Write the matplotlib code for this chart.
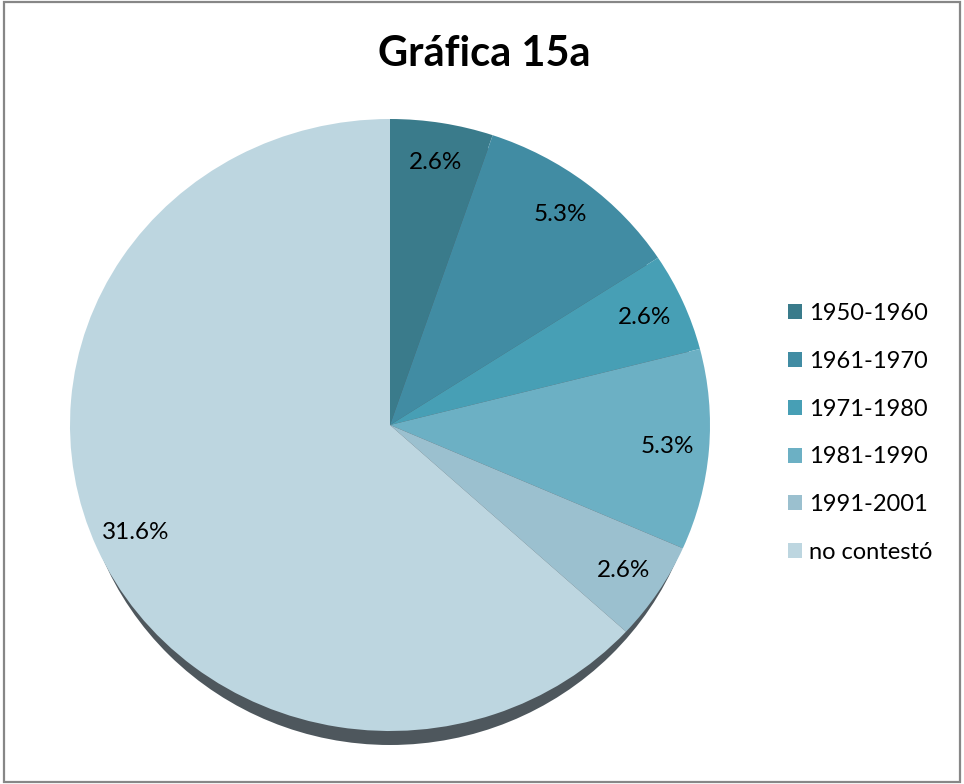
import matplotlib.pyplot as plt
from matplotlib.patches import Ellipse, Rectangle, Patch
import numpy as np

# Datos de la gráfica
periodos = ["1950-1960", "1961-1970", "1971-1980", "1981-1990", "1991-2001", "no contestó"]
porcentajes = [2.6, 5.3, 2.6, 5.3, 2.6, 31.6]
colores = ["#3a7b8b", "#418ca3", "#479fb5", "#6cb0c4", "#9bc0cf", "#bdd6e0"]

plt.rcParams['font.family'] = ['Lato', 'DejaVu Sans']

W, H = 964, 784
fig = plt.figure(figsize=(W / 100, H / 100), dpi=100)

# Marco gris alrededor de la figura
fig.patches.append(Rectangle((4 / W, 2 / H), 956 / W, 780 / H, transform=fig.transFigure,
                             fill=False, edgecolor="#878787", lw=1.6))

# Ejes del pastel (elipse ligeramente achatada)
cx, cy, rx, ry = 390, 425, 320, 306
ax = fig.add_axes([(cx - rx) / W, 1 - (cy + ry) / H, 2 * rx / W, 2 * ry / H])

wedges, _ = ax.pie(porcentajes, colors=colores, startangle=90, counterclock=False,
                   radius=1, wedgeprops=dict(linewidth=0))
ax.set_aspect('auto')
ax.set_xlim(-1, 1)
ax.set_ylim(-1, 1)
ax.axis('off')

# Sombra inferior
sombra = Ellipse((0, -14 / ry), 2 * 0.975, 2, facecolor="#4e575d", edgecolor="none",
                 zorder=0, clip_on=False)
ax.add_patch(sombra)

# Etiquetas de porcentaje dentro de cada rebanada
for w, v in zip(wedges, porcentajes):
    ang = np.deg2rad((w.theta1 + w.theta2) / 2)
    ax.text(0.87 * np.cos(ang), 0.87 * np.sin(ang), f"{v}%", ha='center', va='center',
            fontsize=17.5, color='black')

# Título
fig.text(484 / W, 1 - 54 / H, "Gráfica 15a", ha='center', va='center',
         fontsize=30, fontweight='bold')

# Leyenda
handles = [Patch(facecolor=c, edgecolor='none') for c in colores]
fig.legend(handles, periodos, loc='center left', bbox_to_anchor=(788 / W, 1 - 433 / H),
           frameon=False, fontsize=17, borderpad=0, borderaxespad=0,
           handlelength=0.6, handleheight=0.6, handletextpad=0.3, labelspacing=1.13)

fig.savefig("out.png", dpi=100)
